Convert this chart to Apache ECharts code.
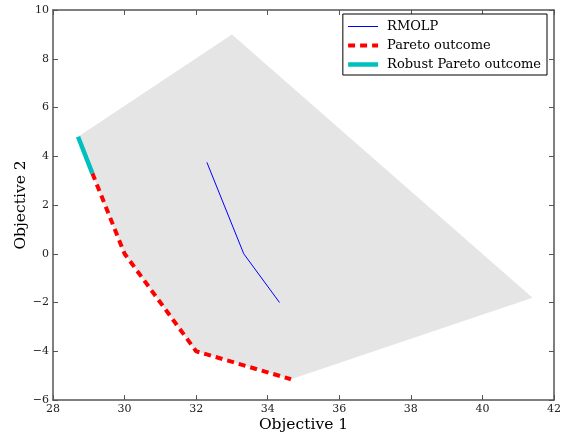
<!DOCTYPE html>
<html><head><meta charset="utf-8">
<script src="https://cdn.jsdelivr.net/npm/echarts@6/dist/echarts.min.js"></script>
<style>html,body{margin:0;padding:0;background:#fff}#c{width:567px;height:439px}</style>
</head><body><div id="c"></div>
<script>
// Feasible outcome region (polygon vertices)
const regionX = [28.7, 33.0, 41.4, 34.65, 32.0, 30.0, 29.1];
const regionY = [4.8, 9.0, -1.8, -5.15, -4.0, 0.0, 3.3];
// RMOLP line
const rmolpX = [32.3, 33.33, 34.33];
const rmolpY = [3.75, 0.0, -2.0];
// Pareto outcome
const paretoX = [29.1, 30.0, 32.0, 34.65];
const paretoY = [3.3, 0.0, -4.0, -5.15];
// Robust Pareto outcome
const robustX = [28.7, 29.1];
const robustY = [4.8, 3.3];
const xTicks = [28, 30, 32, 34, 36, 38, 40, 42];
const yTicks = [-6, -4, -2, 0, 2, 4, 6, 8, 10];

const font = 'DejaVu Serif';
const zip = (a, b) => a.map((v, i) => [v, b[i]]);
const axisColor = '#555';
const fmt = v => (v < 0 ? '\u2212' + Math.abs(v) : String(v));

const chart = echarts.init(document.getElementById('c'), null, {renderer: 'canvas'});
const baseX = {
  type: 'value', min: xTicks[0], max: xTicks[xTicks.length - 1], interval: 2,
  splitLine: {show: false},
  axisLine: {onZero: false, lineStyle: {color: axisColor, width: 1.5}},
  axisTick: {inside: true, length: 5, lineStyle: {color: axisColor}}
};
const baseY = {
  type: 'value', min: yTicks[0], max: yTicks[yTicks.length - 1], interval: 2,
  splitLine: {show: false},
  axisLine: {onZero: false, lineStyle: {color: axisColor, width: 1.5}},
  axisTick: {inside: true, length: 5, lineStyle: {color: axisColor}}
};
chart.setOption({
  animation: false,
  backgroundColor: '#fff',
  grid: {left: 53, right: 13, top: 10, bottom: 39, containLabel: false, outerBoundsMode: 'none'},
  xAxis: [
    Object.assign({}, baseX, {
      position: 'bottom',
      name: 'Objective 1', nameLocation: 'middle', nameGap: 17, nameMoveOverlap: false,
      nameTextStyle: {fontFamily: font, fontSize: 15.5, color: '#000'},
      axisLabel: {fontFamily: font, fontSize: 11, color: '#222', margin: 4, formatter: fmt, showMinLabel: true, showMaxLabel: true, hideOverlap: false}
    }),
    Object.assign({}, baseX, {position: 'top', axisLabel: {show: false}})
  ],
  yAxis: [
    Object.assign({}, baseY, {
      position: 'left',
      name: 'Objective 2', nameLocation: 'middle', nameGap: 24, nameRotate: 90, nameMoveOverlap: false,
      nameTextStyle: {fontFamily: font, fontSize: 15.5, color: '#000'},
      axisLabel: {fontFamily: font, fontSize: 11, color: '#222', margin: 4, formatter: fmt, showMinLabel: true, showMaxLabel: true, hideOverlap: false}
    }),
    Object.assign({}, baseY, {position: 'right', axisLabel: {show: false}})
  ],
  legend: {
    data: [
      {name: 'RMOLP', lineStyle: {width: 1}},
      {name: 'Pareto outcome', lineStyle: {width: 4}},
      {name: 'Robust Pareto outcome', lineStyle: {width: 4.5}}
    ],
    orient: 'vertical', right: 20, top: 14,
    itemWidth: 30, itemHeight: 14, itemGap: 6,
    padding: [6, 6, 4, 3],
    itemStyle: {opacity: 0},
    borderColor: '#000', borderWidth: 1, borderRadius: 0,
    backgroundColor: '#fff',
    textStyle: {fontFamily: font, fontSize: 13, color: '#000', padding: [0, 0, 0, 4]}
  },
  series: [
    {
      type: 'custom', name: 'region', xAxisIndex: 0, yAxisIndex: 0,
      data: zip(regionX, regionY),
      silent: true, z: 1,
      renderItem: function (params, api) {
        if (params.dataIndex !== 0) return null;
        const pts = regionX.map((x, i) => api.coord([x, regionY[i]]));
        return {type: 'polygon', shape: {points: pts}, style: {fill: '#e5e5e5', stroke: null}};
      }
    },
    {
      type: 'line', name: 'RMOLP', data: zip(rmolpX, rmolpY), symbol: 'none', z: 3,
      lineStyle: {color: '#0000ff', width: 1}, itemStyle: {color: '#0000ff'}
    },
    {
      type: 'line', name: 'Pareto outcome', data: zip(paretoX, paretoY), symbol: 'none', z: 3,
      lineStyle: {color: '#ff0000', width: 4, type: [7, 5]}, itemStyle: {color: '#ff0000'}
    },
    {
      type: 'line', name: 'Robust Pareto outcome', data: zip(robustX, robustY), symbol: 'none', z: 3,
      lineStyle: {color: '#00bfbf', width: 4.5}, itemStyle: {color: '#00bfbf'}
    }
  ]
});
</script></body></html>
